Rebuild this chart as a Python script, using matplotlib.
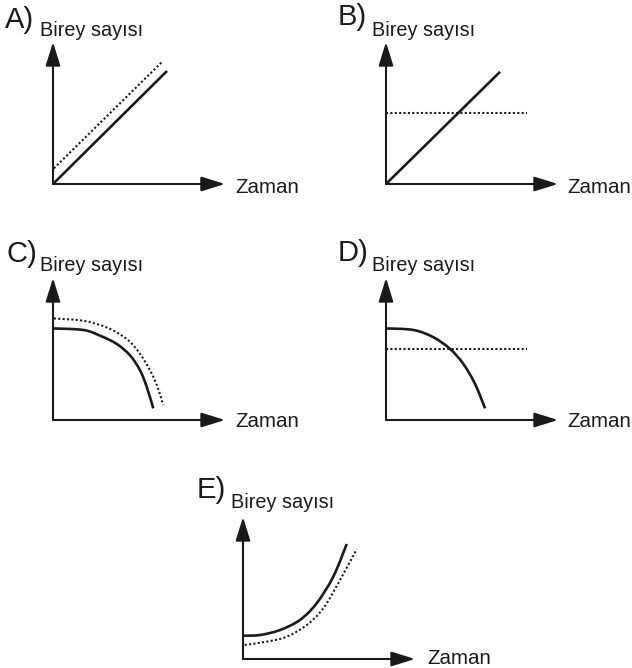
import matplotlib
matplotlib.use("Agg")
import matplotlib.pyplot as plt
from matplotlib.path import Path
from matplotlib.patches import PathPatch

plt.rcParams['font.family'] = ['Liberation Sans', 'DejaVu Sans']

# ---- data (time 0..10, individuals 0..10 schematic units) ----
panel_labels = ["A)", "B)", "C)", "D)", "E)"]
y_title = "Birey sayısı"
x_title = "Zaman"

# A
a_solid_t = [0.0, 6.63]
a_solid_n = [0.0, 7.96]
a_dot_t = [0.05, 6.34]
a_dot_n = [1.1, 8.6]
# B
b_solid_t = [0.0, 6.63]
b_solid_n = [0.0, 7.9]
b_dot_t = [0.0, 8.2]
b_dot_n = [5.0, 5.0]
# C
c_solid_t = [0.0, 1.76, 2.73, 3.70, 4.48, 5.06, 5.45, 5.83]
c_solid_n = [6.45, 6.34, 5.94, 5.36, 4.55, 3.50, 2.33, 0.82]
c_dot_t = [0.05, 1.76, 3.12, 4.28, 5.06, 5.74, 6.10, 6.41]
c_dot_n = [7.15, 6.99, 6.52, 5.71, 4.66, 3.26, 2.25, 1.05]
# D
d_solid_t = [0.0, 1.59, 2.75, 3.72, 4.49, 5.17, 5.76]
d_solid_n = [6.45, 6.34, 5.83, 5.01, 3.96, 2.56, 0.82]
d_dot_t = [0.0, 8.2]
d_dot_n = [5.01, 5.01]
# E
e_solid_t = [0.0, 0.99, 2.15, 3.31, 4.28, 5.25, 6.03]
e_solid_n = [1.64, 1.69, 2.04, 2.75, 3.92, 5.80, 8.10]
e_dot_t = [0.1, 1.38, 2.54, 3.70, 4.67, 5.64, 6.61]
e_dot_n = [0.99, 1.22, 1.57, 2.39, 3.57, 5.56, 7.73]

series = [
    (a_solid_t, a_solid_n, a_dot_t, a_dot_n),
    (b_solid_t, b_solid_n, b_dot_t, b_dot_n),
    (c_solid_t, c_solid_n, c_dot_t, c_dot_n),
    (d_solid_t, d_solid_n, d_dot_t, d_dot_n),
    (e_solid_t, e_solid_n, e_dot_t, e_dot_n),
]


def smooth_path(xs, ys):
    """Bezier path through the given points (Catmull-Rom tangents)."""
    pts = list(zip(xs, ys))
    if len(pts) < 3:
        return Path(pts, [Path.MOVETO] + [Path.LINETO] * (len(pts) - 1))
    verts = [pts[0]]
    codes = [Path.MOVETO]
    n = len(pts)
    for i in range(n - 1):
        p0 = pts[i - 1] if i > 0 else pts[i]
        p1 = pts[i]
        p2 = pts[i + 1]
        p3 = pts[i + 2] if i + 2 < n else pts[i + 1]
        c1 = (p1[0] + (p2[0] - p0[0]) / 6, p1[1] + (p2[1] - p0[1]) / 6)
        c2 = (p2[0] - (p3[0] - p1[0]) / 6, p2[1] - (p3[1] - p1[1]) / 6)
        verts += [c1, c2, p2]
        codes += [Path.CURVE4] * 3
    return Path(verts, codes)


# ---- layout (pixels) ----
W, H = 632, 668
origins = [(53, 184), (386, 184), (53, 420), (386, 420), (243, 659)]
AW, AH = 172, 142
letter_pos = [(5, 28), (338, 25), (6, 262), (338, 261), (197, 498)]
ytitle_pos = [(40, 36), (372, 36), (40, 271), (372, 271), (231, 508)]
xtitle_pos = [(235, 193), (567, 193), (235, 427), (567, 427), (427, 664)]

fig = plt.figure(figsize=(W / 100, H / 100), dpi=100)
fig.patch.set_facecolor('white')
INK = '#1a1a1a'

for i, (st, sn, dt, dn) in enumerate(series):
    ox, oy = origins[i]
    ax = fig.add_axes([ox / W, 1 - oy / H, AW / W, AH / H])
    ax.set_xlim(0, 10)
    ax.set_ylim(0, 10)
    ax.axis('off')
    arrow = dict(arrowstyle='-|>,head_length=1.45,head_width=0.45',
                 lw=1.5, color=INK, shrinkA=0, shrinkB=0)
    ax.annotate('', xy=(10, 0), xytext=(0, 0), arrowprops=arrow,
                annotation_clip=False)
    ax.annotate('', xy=(0, 10), xytext=(0, 0), arrowprops=arrow,
                annotation_clip=False)
    ax.add_patch(PathPatch(smooth_path(st, sn), fill=False, edgecolor=INK,
                           lw=1.9, capstyle='butt', clip_on=False))
    ax.add_patch(PathPatch(smooth_path(dt, dn), fill=False, edgecolor=INK,
                           lw=1.5, linestyle=(0, (1.0, 1.1)), clip_on=False))

    lx, ly = letter_pos[i]
    fig.text(lx / W, 1 - ly / H, panel_labels[i], fontsize=21,
             color=INK, va='baseline', ha='left')
    tx, ty = ytitle_pos[i]
    fig.text(tx / W, 1 - ty / H, y_title, fontsize=14.3,
             color=INK, va='baseline', ha='left')
    zx, zy = xtitle_pos[i]
    fig.text(zx / W, 1 - zy / H, x_title, fontsize=14.8,
             color=INK, va='baseline', ha='left')

fig.savefig('out.png', dpi=100, facecolor='white')
